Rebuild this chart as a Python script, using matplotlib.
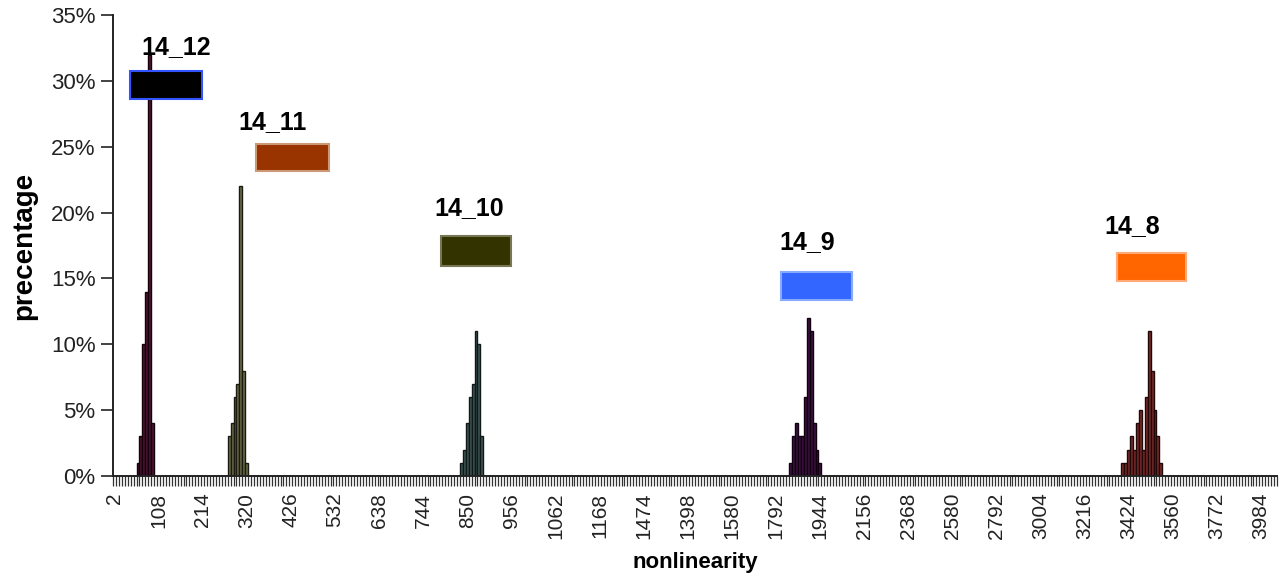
import numpy as np
import matplotlib
matplotlib.use("Agg")
import matplotlib.pyplot as plt
from matplotlib.patches import Rectangle
from matplotlib.ticker import PercentFormatter

plt.rcParams['font.family'] = ['Liberation Sans', 'DejaVu Sans']

# category axis: 396 nonlinearity bins, every 15th one labelled
n_cat = 396
label_step = 15
x_labels = ['2', '108', '214', '320', '426', '532', '638', '744', '850', '956',
            '1062', '1168', '1474', '1398', '1580', '1792', '1944', '2156',
            '2368', '2580', '2792', '3004', '3216', '3424', '3560', '3772', '3984']

# each series: first bin index and percentages of the following bins
s14_12_start = 8
s14_12 = [1, 3, 10, 14, 32, 4]
s14_11_start = 39
s14_11 = [3, 4, 6, 7, 22, 8, 1]
s14_10_start = 118
s14_10 = [1, 2, 4, 6, 7, 11, 10, 3]
s14_9_start = 230
s14_9 = [1, 3, 4, 3, 3, 6, 12, 11, 4, 2, 1]
s14_8_start = 343
s14_8 = [1, 1, 2, 3, 2, 4, 5, 2, 6, 11, 8, 5, 3, 1]

series = [
    ('14_12', s14_12_start, s14_12, '#4b1535', '#150008'),
    ('14_11', s14_11_start, s14_11, '#6b6b4a', '#1a1a10'),
    ('14_10', s14_10_start, s14_10, '#3f5555', '#101818'),
    ('14_9', s14_9_start, s14_9, '#3c1240', '#100010'),
    ('14_8', s14_8_start, s14_8, '#7a2a2a', '#200808'),
]

# legend boxes (drawn like the hand-placed ones): pixel boxes, label centre
legend_boxes = [
    ('14_12', (130, 71, 202, 99), '#000000', '#3355ff', (176, 47)),
    ('14_11', (256, 144, 329, 171), '#993300', '#cc9977', (273, 122)),
    ('14_10', (441, 236, 511, 266), '#333300', '#777755', (469, 208)),
    ('14_9', (781, 272, 852, 300), '#3366ff', '#88aaff', (807, 242)),
    ('14_8', (1117, 253, 1186, 281), '#ff6600', '#ffaa77', (1132, 226)),
]

W, H = 1282, 579
ax_l, ax_r, ax_t, ax_b = 113, 1277, 15, 476

fig = plt.figure(figsize=(W / 100, H / 100), dpi=100)
ax = fig.add_axes([ax_l / W, 1 - ax_b / H, (ax_r - ax_l) / W, (ax_b - ax_t) / H])

for name, start, vals, fc, ec in series:
    idx = np.arange(start, start + len(vals))
    ax.bar(idx, vals, width=1.0, color=fc, edgecolor=ec, linewidth=1.0)

ax.set_xlim(-0.5, n_cat - 0.5)
ax.set_ylim(0, 35)
ax.set_yticks(np.arange(0, 36, 5))
ax.yaxis.set_major_formatter(PercentFormatter(decimals=0))

ax.set_xticks(np.arange(0, len(x_labels) * label_step, label_step))
ax.set_xticklabels(x_labels, rotation=90, fontsize=15, color='#222222')
ax.set_xticks(np.arange(-0.5, n_cat, 1), minor=True)
ax.tick_params(axis='x', which='major', length=0, pad=12)
ax.tick_params(axis='x', which='minor', length=7, width=0.9, color='#333333')
ax.tick_params(axis='y', length=9, width=1.2, labelsize=16, color='#222222',
               labelcolor='#222222')

for side in ('top', 'right'):
    ax.spines[side].set_visible(False)
for side in ('left', 'bottom'):
    ax.spines[side].set_linewidth(1.4)
    ax.spines[side].set_color('#222222')

ax.set_xlabel('nonlinearity', fontsize=16, fontweight='bold', labelpad=9)
ax.set_ylabel('precentage', fontsize=20, fontweight='bold', labelpad=10)


def to_axes(px, py):
    return (px - ax_l) / (ax_r - ax_l), (ax_b - py) / (ax_b - ax_t)


for name, (x0, y0, x1, y1), fc, ec, (lx, ly) in legend_boxes:
    ax0, ay1 = to_axes(x0, y1)
    ax1, ay0 = to_axes(x1, y0)
    ax.add_patch(Rectangle((ax0, ay1), ax1 - ax0, ay0 - ay1, transform=ax.transAxes,
                           facecolor=fc, edgecolor=ec, linewidth=1.5, clip_on=False,
                           zorder=5))
    tx, ty = to_axes(lx, ly)
    ax.text(tx, ty, name, transform=ax.transAxes, ha='center', va='center',
            fontsize=18, fontweight='bold', zorder=6)

fig.savefig('out.png', dpi=100)
